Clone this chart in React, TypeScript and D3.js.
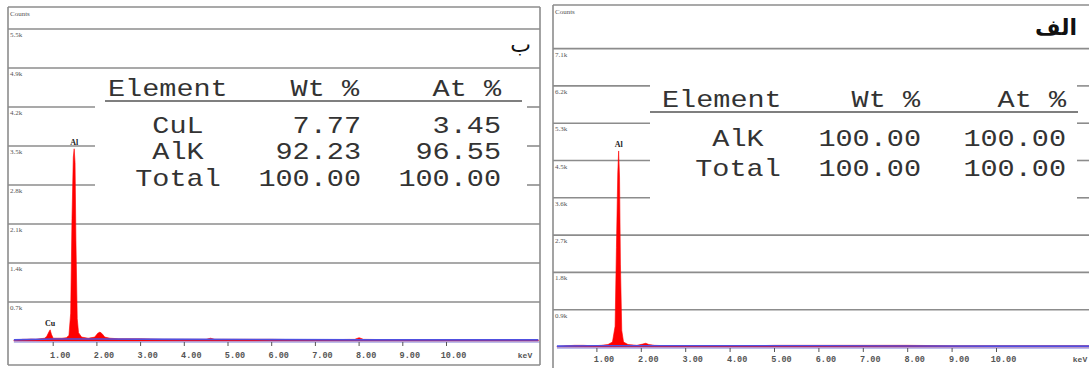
import React from "react";
import * as d3 from "d3";

// ---------- DATA ----------
// Panel "ب" (left)
const gridValuesB = [0.7, 1.4, 2.1, 2.8, 3.5, 4.2, 4.9, 5.6];
const gridLabelsB = ["0.7k", "1.4k", "2.1k", "2.8k", "3.5k", "4.2k", "4.9k", "5.5k"];
const energyB = [0.1, 0.2, 0.3, 0.4, 0.5, 0.6, 0.7, 0.8, 0.85, 0.9, 0.93, 0.96, 1.0, 1.1, 1.2, 1.3, 1.36, 1.4, 1.43, 1.46, 1.48, 1.5, 1.52, 1.55, 1.58, 1.65, 1.8, 1.95, 2.02, 2.07, 2.12, 2.18, 2.3, 2.5, 3.0, 3.5, 4.0, 4.5, 4.6, 4.7, 5.0, 6.0, 7.0, 7.9, 8.0, 8.1, 9.0, 10.0, 11.0, 12.1];
const countsB = [0.01, 0.02, 0.03, 0.03, 0.035, 0.03, 0.04, 0.05, 0.08, 0.16, 0.2, 0.12, 0.05, 0.05, 0.05, 0.06, 0.1, 0.5, 2.2, 3.3, 3.45, 3.2, 1.8, 0.4, 0.15, 0.07, 0.05, 0.07, 0.14, 0.16, 0.13, 0.07, 0.05, 0.04, 0.04, 0.03, 0.03, 0.03, 0.05, 0.03, 0.03, 0.03, 0.02, 0.03, 0.06, 0.03, 0.02, 0.02, 0.02, 0.02];
const bgEnergyB = [0.1, 1.0, 2.0, 4.0, 6.0, 8.0, 10.0, 12.1];
const bgCountsB = [0.02, 0.035, 0.035, 0.03, 0.025, 0.02, 0.02, 0.02];
const elementsB = ["CuL", "AlK", "Total"];
const wtB = ["7.77", "92.23", "100.00"];
const atB = ["3.45", "96.55", "100.00"];
const peaksB = [{ name: "Al", e: 1.48, v: 3.45 }, { name: "Cu", e: 0.93, v: 0.2 }];

// Panel "الف" (right)
const gridValuesA = [0.9, 1.8, 2.7, 3.6, 4.5, 5.4, 6.3, 7.2];
const gridLabelsA = ["0.9k", "1.8k", "2.7k", "3.6k", "4.5k", "5.3k", "6.2k", "7.1k"];
const energyA = [0.1, 0.2, 0.3, 0.5, 0.7, 0.9, 1.1, 1.25, 1.35, 1.41, 1.44, 1.47, 1.49, 1.51, 1.53, 1.56, 1.6, 1.7, 1.9, 2.03, 2.1, 2.17, 2.3, 2.6, 3.0, 4.0, 4.5, 5.0, 6.0, 7.0, 8.0, 9.0, 10.0, 11.0, 12.1];
const countsA = [0.01, 0.02, 0.03, 0.04, 0.04, 0.03, 0.04, 0.06, 0.12, 0.5, 2.4, 4.2, 4.73, 4.1, 2.0, 0.4, 0.12, 0.06, 0.04, 0.07, 0.09, 0.06, 0.04, 0.03, 0.03, 0.03, 0.03, 0.04, 0.04, 0.04, 0.04, 0.03, 0.03, 0.03, 0.03];
const bgEnergyA = [0.1, 1.0, 2.0, 4.0, 6.0, 8.0, 10.0, 12.1];
const bgCountsA = [0.02, 0.03, 0.03, 0.03, 0.03, 0.025, 0.02, 0.02];
const elementsA = ["AlK", "Total"];
const wtA = ["100.00", "100.00"];
const atA = ["100.00", "100.00"];
const peaksA = [{ name: "Al", e: 1.49, v: 4.73 }];

const keVTicks = [1, 2, 3, 4, 5, 6, 7, 8, 9, 10];
const keVTickLabels = ["1.00", "2.00", "3.00", "4.00", "5.00", "6.00", "7.00", "8.00", "9.00", "10.00"];

const MONO = "'Liberation Mono', 'DejaVu Sans Mono', monospace";
const SERIF = "'Liberation Serif', 'DejaVu Serif', serif";
const CH = 17.1; // table character advance

type PanelProps = {
  frame: { x0: number; x1: number; y0: number; y1: number; drawRight: boolean; drawBottom: boolean };
  xRange: [number, number];
  yRange: [number, number];
  yMax: number;
  gridValues: number[];
  gridLabels: string[];
  energy: number[];
  counts: number[];
  bgEnergy: number[];
  bgCounts: number[];
  peaks: { name: string; e: number; v: number }[];
  tableX: number;
  coveredGrid: number[];
  rightStubX: number;
  header: { y: number; elX: number; wtR: number; atR: number; lineX0: number; lineX1: number; lineY: number };
  rows: { y: number[]; elCx: number; wtR: number; atR: number };
  elements: string[];
  wt: string[];
  at: string[];
  title: string;
  titleX: number;
  titleY: number;
  titleWeight: string;
  tickLabelY: number;
};

function Panel(p: PanelProps) {
  const x = d3.scaleLinear().domain([0, 12]).range(p.xRange);
  const y = d3.scaleLinear().domain([0, p.yMax]).range(p.yRange);
  const base = y(0);
  const pts = p.energy.map((e, i) => [e, p.counts[i]] as [number, number]);
  const area = d3
    .area<[number, number]>()
    .x((d) => x(d[0]))
    .y0(base)
    .y1((d) => y(d[1]));
  const line = d3
    .line<[number, number]>()
    .x((d) => x(d[0]))
    .y((d) => y(d[1]));
  const bgPts = p.bgEnergy.map((e, i) => [e, p.bgCounts[i]] as [number, number]);
  const { frame } = p;
  const gridColor = "#8c8c8c";
  const textColor = "#333";

  return (
    <g>
      {p.gridValues.map((v, i) => {
        const covered = p.coveredGrid.includes(i);
        const yy = y(v);
        return covered ? (
          <g key={i}>
            <line x1={frame.x0} x2={p.tableX} y1={yy} y2={yy} stroke={gridColor} strokeWidth={1.6} />
            <line x1={p.rightStubX} x2={frame.x1} y1={yy} y2={yy} stroke={gridColor} strokeWidth={1.6} />
          </g>
        ) : (
          <line key={i} x1={frame.x0} x2={frame.x1} y1={yy} y2={yy} stroke={gridColor} strokeWidth={1.6} />
        );
      })}
      {p.gridLabels.map((l, i) => (
        <text key={i} x={frame.x0 + 2} y={y(p.gridValues[i]) + 8} fontSize={7} fontFamily={SERIF} fill="#555">
          {l}
        </text>
      ))}
      <text x={frame.x0 + 2} y={frame.y0 + 9} fontSize={7} fontFamily={SERIF} fill="#555">
        Counts
      </text>

      <path d={area(pts) || ""} fill="#ff0000" stroke="#ff0000" strokeWidth={0.6} />
      <path d={line(bgPts) || ""} fill="none" stroke="#5050e0" strokeWidth={1.6} />
      <line x1={x(0.1)} x2={frame.x1} y1={base + 1} y2={base + 1} stroke="#7a7ad8" strokeWidth={1} />

      {p.peaks.map((pk, i) => (
        <text key={i} x={x(pk.e)} y={y(pk.v) - 4} fontSize={8} fontWeight="bold" fontFamily={SERIF} fill="#222" textAnchor="middle">
          {pk.name}
        </text>
      ))}

      {keVTicks.map((t, i) => (
        <g key={i}>
          <line x1={x(t)} x2={x(t)} y1={base + 1} y2={base + 5} stroke="#555" strokeWidth={1} />
          <text x={x(t) + 7} y={p.tickLabelY} fontSize={8.5} fontWeight="bold" fontFamily={MONO} fill="#555" textAnchor="middle">
            {keVTickLabels[i]}
          </text>
        </g>
      ))}
      <text x={frame.x1 - 15} y={p.tickLabelY} fontSize={8} fontWeight="bold" fontFamily={MONO} fill="#555" textAnchor="middle">
        keV
      </text>

      <text x={p.header.elX} y={p.header.y} fontSize={24} fontFamily={MONO} fill={textColor} textLength={7 * CH} lengthAdjust="spacingAndGlyphs">
        Element
      </text>
      <text x={p.header.wtR} y={p.header.y} fontSize={24} fontFamily={MONO} fill={textColor} textAnchor="end" textLength={4 * CH} lengthAdjust="spacingAndGlyphs">
        Wt %
      </text>
      <text x={p.header.atR} y={p.header.y} fontSize={24} fontFamily={MONO} fill={textColor} textAnchor="end" textLength={4 * CH} lengthAdjust="spacingAndGlyphs">
        At %
      </text>
      <line x1={p.header.lineX0} x2={p.header.lineX1} y1={p.header.lineY} y2={p.header.lineY} stroke="#555" strokeWidth={1.6} />
      {p.elements.map((el, i) => (
        <g key={i}>
          <text x={p.rows.elCx} y={p.rows.y[i]} fontSize={24} fontFamily={MONO} fill={textColor} textAnchor="middle" textLength={el.length * CH} lengthAdjust="spacingAndGlyphs">
            {el}
          </text>
          <text x={p.rows.wtR} y={p.rows.y[i]} fontSize={24} fontFamily={MONO} fill={textColor} textAnchor="end" textLength={p.wt[i].length * CH} lengthAdjust="spacingAndGlyphs">
            {p.wt[i]}
          </text>
          <text x={p.rows.atR} y={p.rows.y[i]} fontSize={24} fontFamily={MONO} fill={textColor} textAnchor="end" textLength={p.at[i].length * CH} lengthAdjust="spacingAndGlyphs">
            {p.at[i]}
          </text>
        </g>
      ))}

      <text x={p.titleX} y={p.titleY} fontSize={22} fontWeight={p.titleWeight} fontFamily="'DejaVu Sans', 'Noto Sans', sans-serif" fill="#111" textAnchor="end">
        {p.title}
      </text>

      <line x1={frame.x0} x2={frame.x1} y1={frame.y0} y2={frame.y0} stroke="#8c8c8c" strokeWidth={1.6} />
      <line x1={frame.x0} x2={frame.x0} y1={frame.y0} y2={frame.y1} stroke="#8c8c8c" strokeWidth={1.6} />
      {frame.drawRight && <line x1={frame.x1} x2={frame.x1} y1={frame.y0} y2={frame.y1} stroke="#8c8c8c" strokeWidth={1.6} />}
      {frame.drawBottom && <line x1={frame.x0} x2={frame.x1} y1={frame.y1} y2={frame.y1} stroke="#8c8c8c" strokeWidth={1.6} />}
    </g>
  );
}

export default function App() {
  return (
    <svg width={1089} height={368} style={{ position: "absolute", left: 0, top: 0, background: "#fff" }}>
      <rect x={0} y={0} width={1089} height={368} fill="#fff" />
      <Panel
        frame={{ x0: 8, x1: 540, y0: 7, y1: 365, drawRight: true, drawBottom: true }}
        xRange={[9.5, 9.5 + 12 * 43.7]}
        yRange={[341, 341 - (5.6 / 0.7) * 39]}
        yMax={5.6}
        gridValues={gridValuesB}
        gridLabels={gridLabelsB}
        energy={energyB}
        counts={countsB}
        bgEnergy={bgEnergyB}
        bgCounts={bgCountsB}
        peaks={peaksB}
        tableX={95}
        coveredGrid={[3, 4, 5]}
        rightStubX={527}
        header={{ y: 96, elX: 108, wtR: 359, atR: 501, lineX0: 105, lineX1: 522, lineY: 101 }}
        rows={{ y: [133, 159, 186], elCx: 178, wtR: 361, atR: 501 }}
        elements={elementsB}
        wt={wtB}
        at={atB}
        title="ب"
        titleX={531}
        titleY={52}
        titleWeight="normal"
        tickLabelY={358}
      />
      <Panel
        frame={{ x0: 553, x1: 1095, y0: 5, y1: 380, drawRight: false, drawBottom: false }}
        xRange={[552.5, 552.5 + 12 * 44.4]}
        yRange={[347, 347 - (7.2 / 0.9) * 37.3]}
        yMax={7.2}
        gridValues={gridValuesA}
        gridLabels={gridLabelsA}
        energy={energyA}
        counts={countsA}
        bgEnergy={bgEnergyA}
        bgCounts={bgCountsA}
        peaks={peaksA}
        tableX={650}
        coveredGrid={[3, 4, 5, 6]}
        rightStubX={1077}
        header={{ y: 107, elX: 662, wtR: 920, atR: 1066, lineX0: 650, lineX1: 1078, lineY: 112 }}
        rows={{ y: [146, 176], elCx: 738, wtR: 921, atR: 1066 }}
        elements={elementsA}
        wt={wtA}
        at={atA}
        title="الف"
        titleX={1077}
        titleY={35}
        titleWeight="bold"
        tickLabelY={362}
      />
    </svg>
  );
}
